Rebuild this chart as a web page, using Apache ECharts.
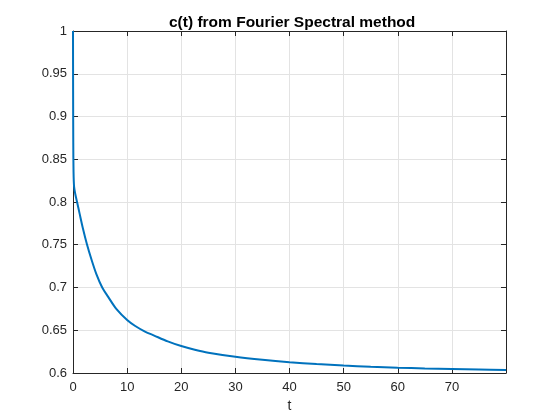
<!DOCTYPE html>
<html>
<head>
<meta charset="utf-8">
<script src="https://cdn.jsdelivr.net/npm/echarts@6/dist/echarts.min.js"></script>
<style>html,body{margin:0;padding:0;background:#fff}#c{width:560px;height:420px}</style>
</head>
<body>
<div id="c"></div>
<script>
const titleText = 'c(t) from Fourier Spectral method';
const xName = 't';
const tVals = [0, 0.02, 0.05, 0.1, 0.2, 0.4, 0.75, 1.2, 1.8, 2.6, 3.4, 4.3, 5.4, 6.5, 8, 10, 11.5, 13.3, 15, 17.5, 20, 22.5, 25, 30, 35, 40, 45, 50, 55, 60, 65, 70, 75, 80];
const cVals = [1, 0.93, 0.87, 0.835, 0.818, 0.81, 0.8, 0.787, 0.77, 0.75, 0.733, 0.716, 0.7, 0.689, 0.675, 0.662, 0.655, 0.6485, 0.6438, 0.637, 0.6315, 0.6272, 0.6237, 0.619, 0.6155, 0.6127, 0.6105, 0.6088, 0.6073, 0.6062, 0.6053, 0.6046, 0.604, 0.6035];

const axisColor = '#262626';
const gridColor = '#e3e3e3';
const fontFam = 'Liberation Sans, Arial, Helvetica, sans-serif';

const chart = echarts.init(document.getElementById('c'), null, {renderer: 'canvas'});
const data = tVals.map((t, i) => [t, cVals[i]]);

const secondary = {
  axisLine: {show: true, onZero: false, lineStyle: {color: axisColor}},
  axisLabel: {show: false},
  splitLine: {show: false},
  axisTick: {show: true, inside: true, length: 5, lineStyle: {color: axisColor}}
};

chart.setOption({
  backgroundColor: '#ffffff',
  animation: false,
  title: {
    text: titleText,
    left: 164,
    top: 10,
    textStyle: {fontFamily: fontFam, fontSize: 15.5, fontWeight: 'bold', color: '#000'}
  },
  grid: {left: 73, right: 54, top: 31, bottom: 47},
  xAxis: [{
    type: 'value', min: 0, max: 80, interval: 10,
    name: xName, nameLocation: 'middle', nameGap: 26,
    nameTextStyle: {fontFamily: fontFam, fontSize: 14, color: axisColor},
    axisLine: {show: true, onZero: false, lineStyle: {color: axisColor}},
    axisTick: {show: true, inside: true, length: 5, lineStyle: {color: axisColor}},
    axisLabel: {showMaxLabel: false, margin: 8, fontFamily: fontFam, fontSize: 13, color: axisColor,
      formatter: v => (Math.abs(v % 10) < 1e-9 && v < 80) ? String(v) : ''},
    splitLine: {show: true, lineStyle: {color: gridColor}}
  }, Object.assign({type: 'value', position: 'top', min: 0, max: 80, interval: 10}, secondary)],
  yAxis: [{
    type: 'value', min: 0.6, max: 1, interval: 0.05,
    axisLine: {show: true, onZero: false, lineStyle: {color: axisColor}},
    axisTick: {show: true, inside: true, length: 5, lineStyle: {color: axisColor}},
    axisLabel: {margin: 6, fontFamily: fontFam, fontSize: 13, color: axisColor,
      formatter: v => String(Math.round(v * 100) / 100)},
    splitLine: {show: true, lineStyle: {color: gridColor}}
  }, Object.assign({type: 'value', position: 'right', min: 0.6, max: 1, interval: 0.05}, secondary)],
  series: [{
    type: 'line',
    data: data,
    showSymbol: false,
    smooth: 0.3,
    lineStyle: {color: '#0072BD', width: 2},
    itemStyle: {color: '#0072BD'},
    clip: true
  }]
});
</script>
</body>
</html>
